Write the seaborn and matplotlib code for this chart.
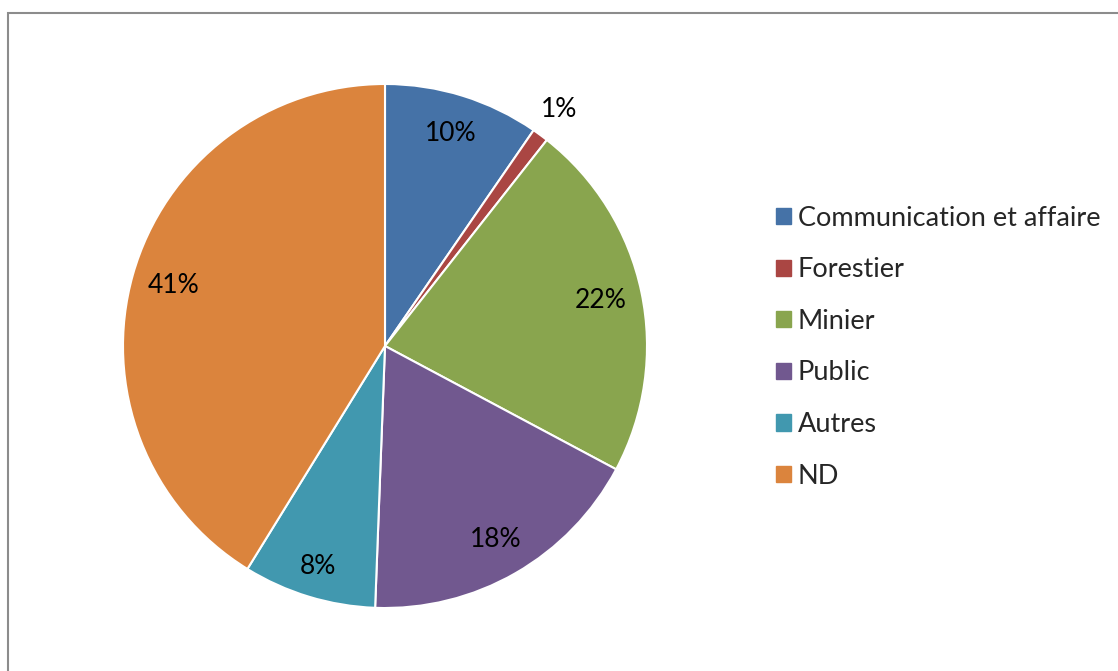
import numpy as np
import matplotlib
matplotlib.use("Agg")
import matplotlib.pyplot as plt
import seaborn as sns

categories = ["Communication et affaire", "Forestier", "Minier", "Public", "Autres", "ND"]
shares = [9.6, 1.0, 22.2, 17.8, 8.2, 41.2]
label_dist = [0.85, 1.12, 0.84, 0.85, 0.88, 0.84]

sns.set_theme(style="white")
plt.rcParams["font.family"] = ["Lato", "DejaVu Sans"]

colors = sns.color_palette(["#4572A7", "#AA4643", "#89A54E", "#71588F", "#4198AF", "#DB843D"])

fig = plt.figure(figsize=(11.18, 6.71), dpi=100)
fig.patch.set_facecolor("white")

# gray frame like the office chart area
frame = plt.Rectangle((8 / 1118, -0.02), 1.1, 1 - 13 / 671 + 0.02, transform=fig.transFigure,
                      fill=False, edgecolor="#8c8c8c", linewidth=1.5)
fig.add_artist(frame)

ax = fig.add_axes([123 / 1118, 63 / 671, 524 / 1118, 524 / 671])
wedges, _ = ax.pie(shares, colors=colors, startangle=90, counterclock=False,
                   wedgeprops=dict(edgecolor="white", linewidth=1.5))
ax.set_xlim(-1, 1)
ax.set_ylim(-1, 1)
ax.set_aspect("equal")

for w, v, d in zip(wedges, shares, label_dist):
    mid = np.deg2rad((w.theta1 + w.theta2) / 2)
    ax.text(d * np.cos(mid), d * np.sin(mid), f"{round(v)}%", ha="center", va="center",
            fontsize=19, color="black")

handles = [plt.Rectangle((0, 0), 1, 1, color=c) for c in colors]
fig.legend(handles, categories, loc="upper left", bbox_to_anchor=(765 / 1118, 1 - 195 / 671),
           frameon=False, fontsize=19.5, handlelength=0.55, handleheight=0.55,
           handletextpad=0.25, labelspacing=0.98, borderaxespad=0)

fig.savefig("out.png", dpi=100, facecolor="white")
